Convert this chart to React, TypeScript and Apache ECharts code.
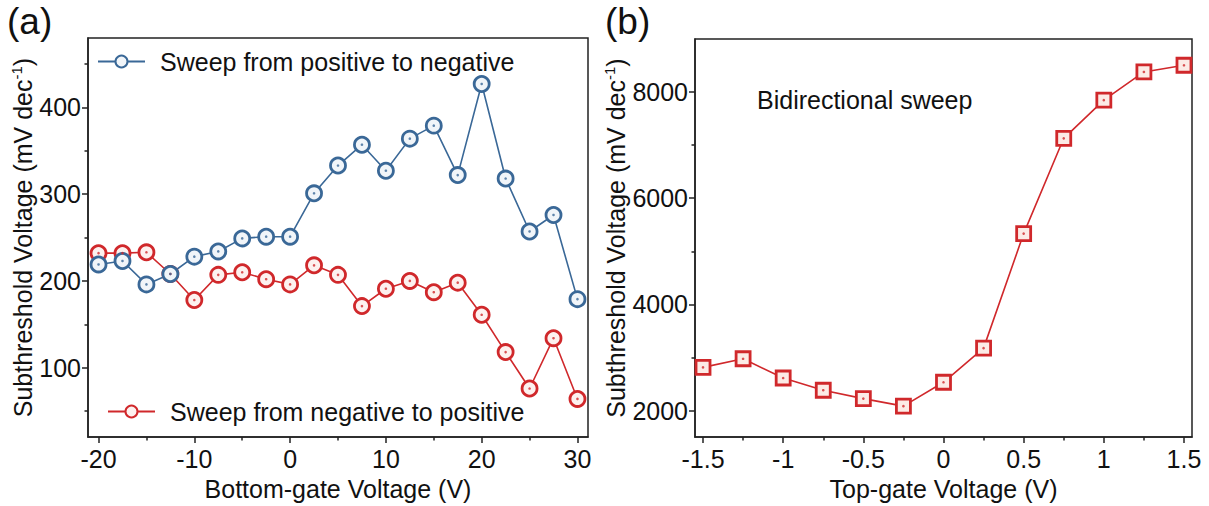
import React, { useEffect, useRef } from 'react';
import * as echarts from 'echarts';

// ---------- data ----------
const bottomGateV = [-20, -17.5, -15, -12.5, -10, -7.5, -5, -2.5, 0, 2.5, 5, 7.5, 10, 12.5, 15, 17.5, 20, 22.5, 25, 27.5, 30];
const sweepPosToNeg = [219, 223, 196, 208, 228, 234, 249, 251, 251, 301, 333, 357, 327, 364, 379, 322, 427, 318, 257, 276, 179];
const sweepNegToPos = [232, 232, 233, 208, 178, 207, 210, 202, 196, 218, 207, 171, 191, 200, 187, 198, 161, 118, 76, 134, 64];

const topGateV = [-1.5, -1.25, -1, -0.75, -0.5, -0.25, 0, 0.25, 0.5, 0.75, 1, 1.25, 1.5];
const bidirectional = [2814, 2976, 2613, 2383, 2225, 2083, 2533, 3176, 5334, 7129, 7848, 8379, 8505];

const leftXTicks = [-20, -10, 0, 10, 20, 30];
const leftXMinor = [-15, -5, 5, 15, 25];
const leftYTicks = [100, 200, 300, 400];
const leftYMinor = [50, 150, 250, 350, 450];
const rightXTicks = [-1.5, -1, -0.5, 0, 0.5, 1, 1.5];
const rightXMinor = [-1.25, -0.75, -0.25, 0.25, 0.75, 1.25];
const rightYTicks = [2000, 4000, 6000, 8000];
const rightYMinor = [3000, 5000, 7000];

const nameBlue = 'Sweep from positive to negative';
const nameRed = 'Sweep from negative to positive';

const BLUE = '#3a6897';
const RED = '#d0282b';
const FONT = '"Liberation Sans", Arial, Helvetica, sans-serif';
const TXT = '#111';

function zip(xs: number[], ys: number[]) {
  return xs.map((x, i) => [x, ys[i]]);
}

export default function App() {
  const ref = useRef<HTMLDivElement>(null);
  useEffect(() => {
    if (!ref.current) return;
    const chart = echarts.init(ref.current, undefined, { renderer: 'svg' });

    const grids = [
      { left: 88, top: 38, width: 500, height: 402, show: true, borderColor: '#222', borderWidth: 1.5, backgroundColor: 'transparent' },
      { left: 695, top: 39, width: 497, height: 400, show: true, borderColor: '#222', borderWidth: 1.5, backgroundColor: 'transparent' },
    ];

    const labelStyle = { fontSize: 25, color: TXT, fontFamily: FONT };
    const nameStyle = {
      fontSize: 25,
      color: TXT,
      fontFamily: FONT,
      rich: { sup: { fontSize: 15, color: TXT, fontFamily: FONT, padding: [0, 0, 12, 0] } },
    };

    const plain = (v: number) => String(Number(v.toFixed(2)));

    const majorX = (gi: number, min: number, max: number, ticks: number[], name: string) => ({
      type: 'value', gridIndex: gi, min, max, position: 'bottom',
      name, nameLocation: 'middle', nameGap: 37, nameTextStyle: nameStyle,
      axisLine: { show: true, onZero: false, lineStyle: { color: '#222', width: 1.5 } },
      axisTick: { show: true, inside: false, length: 6, customValues: ticks, lineStyle: { color: '#222', width: 1.5 } },
      axisLabel: { show: true, margin: 9, customValues: ticks, ...labelStyle, formatter: plain },
      splitLine: { show: false },
    });
    const minorX = (gi: number, min: number, max: number, ticks: number[]) => ({
      type: 'value', gridIndex: gi, min, max, position: 'bottom',
      axisLine: { show: false, onZero: false },
      axisTick: { show: true, inside: false, length: 3.5, customValues: ticks, lineStyle: { color: '#222', width: 1.5 } },
      axisLabel: { show: false },
      splitLine: { show: false },
    });
    const majorY = (gi: number, min: number, max: number, ticks: number[], gap: number) => ({
      type: 'value', gridIndex: gi, min, max, position: 'left',
      name: 'Subthreshold Voltage (mV dec{sup|-1})', nameLocation: 'middle', nameGap: gap, nameTextStyle: nameStyle,
      axisLine: { show: true, onZero: false, lineStyle: { color: '#222', width: 1.5 } },
      axisTick: { show: true, inside: false, length: 6, customValues: ticks, lineStyle: { color: '#222', width: 1.5 } },
      axisLabel: { show: true, margin: 7, customValues: ticks, ...labelStyle, formatter: plain },
      splitLine: { show: false },
    });
    const minorY = (gi: number, min: number, max: number, ticks: number[]) => ({
      type: 'value', gridIndex: gi, min, max, position: 'left',
      axisLine: { show: false, onZero: false },
      axisTick: { show: true, inside: false, length: 3.5, customValues: ticks, lineStyle: { color: '#222', width: 1.5 } },
      axisLabel: { show: false },
      splitLine: { show: false },
    });

    const circleLine = (name: string, color: string, fill: string, data: number[][]) => ({
      type: 'line', name, xAxisIndex: 0, yAxisIndex: 0, data,
      symbol: 'circle', symbolSize: 15,
      lineStyle: { color, width: 1.6 },
      itemStyle: { color: fill, borderColor: color, borderWidth: 2.8 },
      emphasis: { disabled: true },
    });
    const dots = (color: string, data: number[][], xi: number, yi: number) => ({
      type: 'scatter', name: '_dots' + color + xi, xAxisIndex: xi, yAxisIndex: yi, data,
      symbol: 'circle', symbolSize: 2.6, itemStyle: { color }, silent: true, z: 5,
    });

    const option: any = {
      animation: false,
      backgroundColor: '#fff',
      grid: grids,
      xAxis: [
        majorX(0, -21.1, 31.1, leftXTicks, 'Bottom-gate Voltage (V)'),
        majorX(1, -1.55, 1.55, rightXTicks, 'Top-gate Voltage (V)'),
        minorX(0, -21.1, 31.1, leftXMinor),
        minorX(1, -1.55, 1.55, rightXMinor),
      ],
      yAxis: [
        majorY(0, 20, 480, leftYTicks, 52),
        majorY(1, 1500, 9000, rightYTicks, 63),
        minorY(0, 20, 480, leftYMinor),
        minorY(1, 1500, 9000, rightYMinor),
      ],
      legend: [
        {
          data: [nameBlue], left: 97, top: 49, padding: 0, itemWidth: 47, itemHeight: 15,
          textStyle: { fontSize: 25, color: TXT, fontFamily: FONT, padding: [0, 0, 0, 10] },
          selectedMode: false,
        },
        {
          data: [nameRed], left: 107, top: 399, padding: 0, itemWidth: 47, itemHeight: 15,
          textStyle: { fontSize: 25, color: TXT, fontFamily: FONT, padding: [0, 0, 0, 10] },
          selectedMode: false,
        },
      ],
      series: [
        circleLine(nameRed, RED, '#fdf1ef', zip(bottomGateV, sweepNegToPos)),
        circleLine(nameBlue, BLUE, '#f1f5f9', zip(bottomGateV, sweepPosToNeg)),
        dots(RED, zip(bottomGateV, sweepNegToPos), 0, 0),
        dots(BLUE, zip(bottomGateV, sweepPosToNeg), 0, 0),
        {
          type: 'line', name: 'Bidirectional sweep', xAxisIndex: 1, yAxisIndex: 1,
          data: zip(topGateV, bidirectional),
          symbol: 'rect', symbolSize: 14,
          lineStyle: { color: RED, width: 1.6 },
          itemStyle: { color: '#fcebe6', borderColor: RED, borderWidth: 2.8 },
          emphasis: { disabled: true },
        },
        dots(RED, zip(topGateV, bidirectional), 1, 1),
      ],
      graphic: [
        { type: 'text', left: 7, top: 3, style: { text: '(a)', fontSize: 37, fill: TXT, fontFamily: FONT } },
        { type: 'text', left: 605, top: 3, style: { text: '(b)', fontSize: 37, fill: TXT, fontFamily: FONT } },
        { type: 'text', left: 757, top: 87, style: { text: 'Bidirectional sweep', fontSize: 25, fill: TXT, fontFamily: FONT } },
      ],
    };
    chart.setOption(option);
    return () => chart.dispose();
  }, []);
  return (
    <div
      ref={ref}
      style={{ position: 'fixed', left: 0, top: 0, width: 1209, height: 506, background: '#fff' }}
    />
  );
}
